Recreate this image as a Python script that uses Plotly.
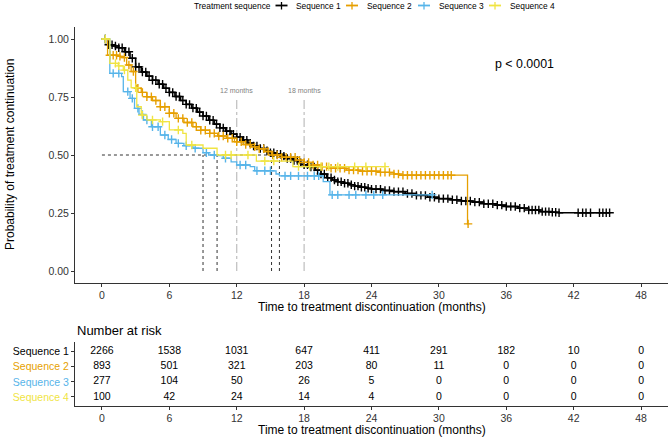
import numpy as np
import plotly.graph_objects as go

# ---------------- data ----------------
series_names = ["Sequence 1", "Sequence 2", "Sequence 3", "Sequence 4"]
colors = ["#000000", "#E69F00", "#56B4E9", "#F0E442"]

s1_time = [0.0, 0.5, 1.0, 1.5, 2.0, 2.5, 3.0, 3.5, 4.0, 4.5, 5.0, 5.5, 6.0, 6.5, 7.0, 7.5, 8.0, 8.5,
           9.0, 9.5, 10.0, 10.5, 11.0, 11.5, 12.0, 12.5, 13.0, 13.5, 14.0, 14.5, 15.0, 15.5, 16.0,
           16.5, 17.0, 17.5, 18.0, 18.5, 19.0, 19.5, 20.0, 20.5, 21.0, 21.5, 22.0, 22.5, 23.0, 23.5,
           24.0, 25.0, 26.0, 27.0, 28.0, 29.0, 30.0, 31.0, 32.0, 33.0, 34.0, 35.0, 36.0, 37.0, 38.0,
           39.0, 40.0, 40.7]
s1_surv = [1.000, 0.975, 0.970, 0.962, 0.945, 0.917, 0.880, 0.858, 0.840, 0.822, 0.805, 0.788, 0.770,
           0.752, 0.735, 0.718, 0.702, 0.685, 0.668, 0.650, 0.633, 0.617, 0.603, 0.590, 0.577, 0.564,
           0.551, 0.539, 0.528, 0.518, 0.510, 0.503, 0.495, 0.485, 0.476, 0.467, 0.458, 0.448, 0.435,
           0.418, 0.402, 0.392, 0.385, 0.378, 0.372, 0.366, 0.361, 0.357, 0.353, 0.347, 0.342, 0.334,
           0.326, 0.318, 0.312, 0.307, 0.302, 0.297, 0.290, 0.284, 0.278, 0.271, 0.263, 0.256, 0.253,
           0.251]
s1_end = 45.2
s1_censor = [0.3, 0.6, 0.9, 1.2, 1.5, 1.8, 2.1, 2.4, 2.7, 3.0, 3.3, 3.6, 3.9, 4.2, 4.5, 4.8, 5.1, 5.4,
             5.7, 6.0, 6.3, 6.6, 6.9, 7.2, 7.5, 7.8, 8.1, 8.4, 8.7, 9.0, 9.3, 9.6, 9.9, 10.2, 10.5, 10.8,
             11.1, 11.4, 11.7, 12.0, 12.3, 12.6, 12.9, 13.2, 13.5, 13.8, 14.1, 14.4, 14.7, 15.0, 15.3,
             15.6, 15.9, 16.2, 16.5, 16.8, 17.1, 17.4, 17.7, 18.0, 18.3, 18.6, 18.9, 19.2, 19.5, 19.8,
             20.1, 20.4, 20.7, 21.0, 21.3, 21.6, 21.9, 22.2, 22.5, 22.8, 23.1, 23.4, 23.7, 24.0, 24.4,
             24.8, 25.2, 25.6, 26.0, 26.4, 26.8, 27.2, 27.6, 28.0, 28.4, 28.8, 29.2, 29.6, 30.0, 30.4,
             30.8, 31.2, 31.6, 32.0, 32.4, 32.8, 33.2, 33.6, 34.0, 34.4, 34.8, 35.2, 35.6, 36.0, 36.4,
             36.8, 37.2, 37.6, 38.0, 38.3, 38.6, 38.9, 39.2, 39.5, 39.8, 40.1, 40.4, 40.7, 42.4, 42.8,
             43.1, 43.5, 44.3, 44.6, 44.9, 45.2]

s2_time = [0.0, 0.5, 1.5, 1.8, 2.2, 2.6, 3.0, 3.1, 3.5, 4.0, 4.5, 5.2, 6.0, 6.6, 7.3, 8.1, 8.8, 9.6,
           10.3, 11.1, 11.8, 12.6, 13.3, 14.0, 14.5, 15.1, 16.0, 17.3, 18.0, 18.8, 19.5, 20.3, 21.75,
           23.0, 24.7, 26.0, 26.5, 32.55]
s2_surv = [1.000, 0.930, 0.925, 0.920, 0.888, 0.860, 0.800, 0.788, 0.770, 0.751, 0.735, 0.708, 0.680,
           0.658, 0.640, 0.622, 0.607, 0.593, 0.582, 0.572, 0.557, 0.545, 0.535, 0.527, 0.515, 0.500,
           0.490, 0.478, 0.468, 0.457, 0.450, 0.443, 0.435, 0.430, 0.425, 0.418, 0.413, 0.203]
s2_end = 32.6
s2_censor = [0.3, 0.7, 1.0, 1.3, 1.6, 2.0, 2.4, 2.8, 3.2, 3.6, 4.0, 4.4, 4.8, 5.2, 5.6, 6.0, 6.4, 6.8,
             7.2, 7.6, 8.0, 8.4, 8.8, 9.2, 9.6, 10.0, 10.4, 10.8, 11.2, 11.6, 12.0, 12.4, 12.8, 13.2,
             13.6, 14.0, 14.4, 14.8, 15.2, 15.6, 16.0, 16.4, 16.8, 17.2, 17.6, 18.0, 18.4, 18.8, 19.2,
             19.6, 20.0, 20.4, 20.8, 21.2, 21.6, 22.0, 22.4, 22.8, 23.2, 23.6, 24.0, 24.4, 24.8, 25.2,
             25.6, 26.0, 26.4, 26.8, 27.2, 27.6, 28.0, 28.4, 28.8, 29.2, 29.6, 30.0, 30.4, 30.8, 31.1,
             32.6]

s3_time = [0.0, 0.7, 1.75, 1.9, 2.5, 2.9, 3.3, 3.7, 4.4, 5.2, 5.9, 6.6, 7.3, 8.1, 9.0, 9.5, 10.2, 10.8,
           11.5, 12.0, 13.2, 13.6, 15.5, 15.8, 19.7, 20.3]
s3_surv = [1.000, 0.852, 0.838, 0.773, 0.744, 0.701, 0.675, 0.651, 0.622, 0.586, 0.567, 0.550, 0.540,
           0.529, 0.510, 0.500, 0.497, 0.486, 0.470, 0.457, 0.450, 0.432, 0.418, 0.410, 0.385, 0.328]
s3_end = 29.4
s3_censor = [0.3, 1.0, 1.5, 2.3, 2.7, 3.2, 3.6, 4.0, 4.5, 5.0, 5.6, 6.2, 6.8, 7.5, 8.3, 9.3, 10.0, 11.0,
             12.3, 12.8, 13.8, 14.5, 15.0, 16.3, 16.8, 17.5, 18.3, 18.9, 19.3, 20.5, 21.0, 22.0, 22.6,
             23.5, 24.2, 25.0, 29.4]

s4_time = [0.0, 0.7, 1.45, 1.9, 2.3, 2.6, 3.1, 3.5, 4.0, 5.2, 6.0, 7.2, 7.5, 9.0, 10.25, 13.75, 17.0]
s4_surv = [1.000, 0.895, 0.884, 0.866, 0.823, 0.790, 0.708, 0.672, 0.651, 0.644, 0.608, 0.593, 0.543,
           0.529, 0.500, 0.474, 0.450]
s4_end = 25.2
s4_censor = [0.3, 1.2, 1.5, 2.0, 3.0, 3.6, 4.5, 5.4, 6.8, 8.0, 11.0, 11.5, 13.0, 14.5, 15.3, 17.5, 18.5,
             19.5, 20.2, 21.0, 22.5, 23.5, 25.2]

medians = [15.8, 15.1, 9.0, 10.25]

risk_times = [0, 6, 12, 18, 24, 30, 36, 42, 48]
risk_s1 = [2266, 1538, 1031, 647, 411, 291, 182, 10, 0]
risk_s2 = [893, 501, 321, 203, 80, 11, 0, 0, 0]
risk_s3 = [277, 104, 50, 26, 5, 0, 0, 0, 0]
risk_s4 = [100, 42, 24, 14, 4, 0, 0, 0, 0]

x_ticks = [0, 6, 12, 18, 24, 30, 36, 42, 48]
y_ticks = [0.0, 0.25, 0.5, 0.75, 1.0]
ref_months = [12, 18]

# ---------------- figure ----------------
W, H = 669, 438

def py(pix):  # pixel y -> paper y
    return (H - pix) / H

def px(pix):
    return pix / W

fig = go.Figure()

curves = [(s1_time, s1_surv, s1_end, s1_censor),
          (s2_time, s2_surv, s2_end, s2_censor),
          (s3_time, s3_surv, s3_end, s3_censor),
          (s4_time, s4_surv, s4_end, s4_censor)]
line_widths = [1.6, 1.3, 1.3, 1.3]

font_family = "Liberation Sans, Arial, sans-serif"

# reference lines (12 / 18 months)
for m in ref_months:
    fig.add_trace(go.Scatter(x=[m, m], y=[0, 0.75], mode="lines",
                             line=dict(color="#BDBDBD", width=1.2, dash="dashdot"),
                             showlegend=False, hoverinfo="skip", xaxis="x", yaxis="y"))

# median lines
fig.add_trace(go.Scatter(x=[0, max(medians)], y=[0.5, 0.5], mode="lines",
                         line=dict(color="#333333", width=1, dash="dot"),
                         showlegend=False, hoverinfo="skip"))
for m in medians:
    fig.add_trace(go.Scatter(x=[m, m], y=[0, 0.5], mode="lines",
                             line=dict(color="#333333", width=1, dash="dot"),
                             showlegend=False, hoverinfo="skip"))

for (t, s, end, cens), name, col, lw in zip(curves, series_names, colors, line_widths):
    tt = np.array(t)
    ss = np.array(s)
    fig.add_trace(go.Scatter(x=list(t) + [end], y=list(s) + [s[-1]], mode="lines",
                             line=dict(color=col, width=lw, shape="hv"),
                             showlegend=False, hoverinfo="skip", name=name))
    cc = np.array(cens)
    cy = ss[np.searchsorted(tt, cc, side="right") - 1]
    fig.add_trace(go.Scatter(x=cc, y=cy, mode="markers",
                             marker=dict(symbol="cross-thin", size=6,
                                         line=dict(color=col, width=1.4)),
                             showlegend=False, hoverinfo="skip", name=name))

# risk table
risk_rows = [risk_s1, risk_s2, risk_s3, risk_s4]
row_y = [4, 3, 2, 1]
for vals, yy in zip(risk_rows, row_y):
    fig.add_trace(go.Scatter(x=risk_times, y=[yy] * len(risk_times), mode="text",
                             text=[str(v) for v in vals],
                             textfont=dict(family=font_family, size=10.5, color="#000000"),
                             showlegend=False, hoverinfo="skip", xaxis="x2", yaxis="y2"))

axis_common = dict(showline=True, linecolor="#333333", linewidth=1, ticks="outside",
                   ticklen=3, tickcolor="#333333", showgrid=False, zeroline=False,
                   automargin=False,
                   tickfont=dict(family=font_family, size=10.5, color="#333333"))

xdom = [px(75), px(668)]
fig.update_layout(
    width=W, height=H,
    margin=dict(l=0, r=0, t=0, b=0, autoexpand=False),
    plot_bgcolor="white", paper_bgcolor="white",
    font=dict(family=font_family),
    showlegend=False,
    xaxis=dict(domain=xdom, range=[-2.4, 50.4], tickvals=x_ticks, anchor="y", **axis_common),
    yaxis=dict(domain=[py(282.6), py(27.4)], range=[-0.05, 1.05], tickvals=y_ticks,
               ticktext=["%.2f" % v for v in y_ticks], anchor="x", **axis_common),
    xaxis2=dict(domain=xdom, range=[-2.4, 50.4], tickvals=x_ticks, anchor="y2", **axis_common),
    yaxis2=dict(domain=[py(405.7), py(341.7)], range=[0.42, 4.66], tickvals=row_y,
                ticktext=["<span style='color:%s'>%s</span>" % (c, n) for c, n in zip(colors, series_names)],
                anchor="x2", **axis_common),
)

ann = []
shapes = []
# legend (drawn manually, ggplot style, centred above the panel)
LEG_Y = 5.5
ann.append(dict(text="Treatment sequence", xref="paper", yref="paper", x=px(191.5), y=py(LEG_Y),
                xanchor="left", yanchor="middle", showarrow=False,
                font=dict(family=font_family, size=8.4, color="#000000")))
key_x = [281.5, 352.0, 424.0, 495.0]
for kx, name, col in zip(key_x, series_names, colors):
    shapes.append(dict(type="line", xref="paper", yref="paper",
                       x0=px(kx - 6), x1=px(kx + 6), y0=py(LEG_Y), y1=py(LEG_Y),
                       line=dict(color=col, width=1.8)))
    shapes.append(dict(type="line", xref="paper", yref="paper",
                       x0=px(kx), x1=px(kx), y0=py(LEG_Y - 3.5), y1=py(LEG_Y + 4),
                       line=dict(color=col, width=1.3)))
    ann.append(dict(text=name, xref="paper", yref="paper", x=px(kx + 12.5), y=py(LEG_Y),
                    xanchor="left", yanchor="middle", showarrow=False,
                    font=dict(family=font_family, size=8.4, color="#000000")))

ann.append(dict(text="Time to treatment discontinuation (months)", xref="paper", yref="paper",
                x=px(371.5), y=py(306.7), xanchor="center", yanchor="middle", showarrow=False,
                font=dict(family=font_family, size=12, color="#000000")))
ann.append(dict(text="Time to treatment discontinuation (months)", xref="paper", yref="paper",
                x=px(371.5), y=py(430), xanchor="center", yanchor="middle", showarrow=False,
                font=dict(family=font_family, size=12, color="#000000")))
ann.append(dict(text="Probability of treatment continuation", xref="paper", yref="paper",
                x=px(10), y=py(155), xanchor="center", yanchor="middle", textangle=-90,
                showarrow=False, font=dict(family=font_family, size=12, color="#000000")))
ann.append(dict(text="Number at risk", xref="paper", yref="paper",
                x=px(75), y=py(330), xanchor="left", yanchor="middle", showarrow=False,
                font=dict(family=font_family, size=13, color="#000000")))
ann.append(dict(text="p < 0.0001", xref="x", yref="y", x=37.6, y=0.894,
                xanchor="center", yanchor="middle", showarrow=False,
                font=dict(family=font_family, size=12.4, color="#000000")))
for m in ref_months:
    ann.append(dict(text="%d months" % m, xref="x", yref="y", x=m, y=0.78,
                    xanchor="center", yanchor="middle", showarrow=False,
                    font=dict(family=font_family, size=7, color="#7F7F7F")))
fig.update_layout(annotations=ann, shapes=shapes)

fig.write_html("out.html")
